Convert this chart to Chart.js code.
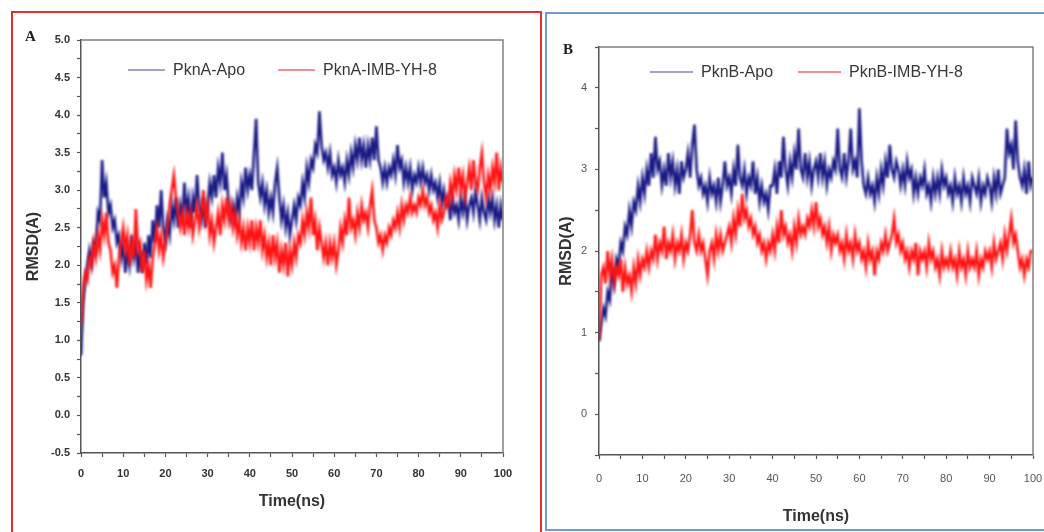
<!DOCTYPE html>
<html>
<head>
<meta charset="utf-8">
<script src="https://cdn.jsdelivr.net/npm/chart.js@4.4.1/dist/chart.umd.min.js"></script>
<style>
  body { margin: 0; background: #fff; width: 1044px; height: 532px; overflow: hidden; position: relative; font-family: "Liberation Sans", Arial, sans-serif; }
  .frame { position: absolute; box-sizing: border-box; }
  #frameA { left: 11px; top: 11px; width: 531px; height: 530px; border: 2px solid #e2322f; }
  #frameB { left: 545px; top: 12px; width: 510px; height: 519px; border: 2px solid #6f9ccd; }
  .wrap { position: absolute; }
  #wrapA { left: 12px; top: 12px; }
  #wrapB { left: 545px; top: 13px; }
  .tag { position: absolute; font-family: "Liberation Serif", serif; font-weight: bold; font-size: 15px; color: #222; }
  .legend { position: absolute; display: flex; align-items: center; font-size: 16px; color: #383838; white-space: nowrap; }
  .legend .sw { display: inline-block; height: 1.5px; margin-right: 8px; }
</style>
</head>
<body>
<div class="frame" id="frameA"></div>
<div class="frame" id="frameB"></div>
<div class="wrap" id="wrapA"><canvas id="chartA" width="528" height="520"></canvas></div>
<div class="wrap" id="wrapB"><canvas id="chartB" width="499" height="519"></canvas></div>
<div class="tag" style="left:25px;top:28px;">A</div>
<div class="tag" style="left:563px;top:41px;">B</div>
<div class="legend" id="legendA" style="left:128px;top:61px;"></div>
<div class="legend" id="legendB" style="left:650px;top:63px;"></div>
<script>
// sampling interval of both trajectories (ns)
const timeStep = 0.5;

const labelsA = ['PknA-Apo', 'PknA-IMB-YH-8'];
const labelsB = ['PknB-Apo', 'PknB-IMB-YH-8'];

// RMSD values, one every 0.5 ns from 0 to 100 ns
const pknaApo = [
  0.8,1.5,1.8,2.0,2.2,2.0,2.3,2.2,2.7,2.6,3.4,2.9,3.1,2.7,2.8,2.5,2.6,2.3,2.4,2.1,
  2.3,1.9,2.2,2.0,2.4,2.1,2.3,1.9,2.2,1.9,2.3,2.0,2.4,2.1,2.6,2.3,2.8,2.5,3.0,2.5,
  2.3,2.6,2.4,2.8,2.6,2.9,2.5,2.8,2.6,3.1,2.7,2.9,2.5,2.9,2.7,3.2,2.8,2.6,2.9,2.5,
  2.8,3.1,2.9,3.2,2.9,3.3,3.1,3.5,3.0,3.2,2.8,2.6,2.8,2.6,2.9,2.7,3.1,2.9,3.3,3.0,
  3.2,3.0,3.5,3.95,3.1,2.9,3.1,2.8,3.0,2.7,2.9,2.7,3.1,3.3,2.9,2.6,2.8,2.5,2.7,2.4,
  2.6,2.8,2.6,2.9,2.8,3.1,2.9,3.3,3.1,3.4,3.3,3.6,3.5,4.05,3.6,3.4,3.5,3.3,3.5,3.2,
  3.3,3.1,3.4,3.2,3.3,3.1,3.4,3.2,3.5,3.3,3.6,3.4,3.7,3.4,3.6,3.3,3.6,3.4,3.7,3.4,
  3.85,3.4,3.3,3.1,3.3,3.1,3.3,3.2,3.4,3.2,3.6,3.3,3.4,3.1,3.3,3.1,3.3,3.0,3.2,3.1,
  3.3,3.1,3.3,3.1,3.2,3.0,3.2,3.0,3.1,2.9,3.1,2.8,3.0,2.8,2.9,2.6,2.9,2.7,2.8,2.6,
  2.9,2.7,2.9,2.6,2.8,2.9,2.7,3.0,2.8,2.6,2.9,2.7,2.6,2.9,2.7,2.9,2.6,2.8,2.5,2.8,2.6
];
const pknaLig = [
  1.2,1.7,1.9,1.8,2.1,2.0,2.3,2.1,2.4,2.2,2.6,2.4,2.7,2.3,2.2,1.9,2.0,1.7,2.1,2.3,
  2.5,2.2,2.4,2.0,2.3,2.1,2.75,2.2,2.3,1.9,2.2,1.8,2.0,1.7,2.1,2.3,2.5,2.2,2.4,2.1,
  2.3,2.5,2.8,3.0,3.2,2.9,2.7,2.5,2.7,2.4,2.7,2.5,2.7,2.4,2.6,2.8,2.5,2.7,3.0,2.6,
  2.8,2.4,2.6,2.3,2.5,2.7,2.4,2.8,2.6,2.9,2.6,2.8,2.5,2.7,2.4,2.6,2.3,2.5,2.2,2.5,
  2.3,2.6,2.2,2.5,2.3,2.6,2.2,2.4,2.1,2.3,2.0,2.4,2.1,2.3,1.9,2.2,2.0,2.3,1.85,2.2,
  2.0,2.3,2.1,2.4,2.3,2.6,2.4,2.7,2.5,2.9,2.4,2.6,2.2,2.5,2.3,2.1,2.3,2.0,2.3,2.1,
  2.3,2.0,2.2,2.5,2.3,2.6,2.4,2.9,2.5,2.6,2.4,2.7,2.5,2.8,2.6,2.7,2.5,2.8,3.0,2.6,
  2.5,2.3,2.4,2.2,2.4,2.3,2.5,2.4,2.6,2.5,2.7,2.5,2.8,2.6,2.8,2.7,2.9,2.7,2.8,2.7,
  2.9,2.8,3.0,2.8,2.9,2.7,2.8,2.6,2.7,2.5,2.8,2.6,2.7,2.9,2.8,3.1,2.9,3.2,3.0,3.3,
  3.0,3.2,2.9,3.1,3.3,3.0,3.4,3.1,3.0,3.3,3.5,3.1,2.9,3.2,3.0,3.3,3.1,3.5,3.0,3.3,3.1
];
const pknbApo = [
  0.9,1.1,1.3,1.2,1.5,1.4,1.8,1.6,1.9,1.8,2.1,2.0,2.3,2.2,2.5,2.3,2.6,2.5,2.8,2.6,
  2.9,2.7,3.0,2.8,3.2,2.9,3.4,3.0,3.1,2.8,3.0,2.8,3.2,2.9,3.1,2.8,3.0,2.7,3.1,2.9,
  3.0,3.2,2.9,3.3,3.55,3.0,2.8,2.9,2.7,2.8,2.6,2.9,2.7,2.8,2.6,2.9,2.6,2.8,3.1,2.8,
  2.9,2.7,3.0,2.8,3.3,2.9,2.8,3.0,2.7,2.9,2.8,3.1,2.7,2.9,2.6,2.8,2.6,2.7,2.5,2.8,
  2.8,3.0,2.7,3.1,2.9,3.4,3.0,2.8,3.1,2.9,3.2,3.0,3.5,3.0,2.9,3.2,2.9,3.1,2.8,3.0,
  3.1,2.9,3.2,2.9,3.1,2.8,3.0,2.9,3.1,3.0,3.5,3.0,2.9,3.2,2.9,3.1,3.5,3.0,3.1,2.9,
  3.75,3.1,2.8,2.7,2.9,2.7,2.8,2.6,2.9,2.7,3.0,2.8,3.1,2.9,3.3,3.0,2.9,3.1,3.0,2.8,
  3.0,2.8,3.1,2.9,3.0,2.7,2.9,2.7,2.9,2.8,3.0,2.7,2.8,2.6,2.9,2.7,2.9,2.7,3.0,2.8,
  2.9,2.7,2.8,2.6,2.9,2.7,2.8,2.6,2.9,2.7,2.8,2.6,2.9,2.8,2.7,2.9,2.6,2.8,2.7,2.9,
  2.8,2.6,2.9,2.7,3.0,2.7,2.8,2.9,3.5,3.2,3.3,3.0,3.6,3.1,2.9,2.8,3.0,2.7,3.1,2.8,2.9
];
const pknbLig = [
  0.9,1.7,1.8,1.6,2.0,1.7,1.9,1.6,1.8,1.7,1.9,1.5,1.8,1.6,1.7,1.5,1.8,1.6,1.9,1.7,
  1.9,1.8,2.0,1.8,2.0,1.9,2.2,1.9,2.1,2.0,2.3,1.9,2.1,2.0,2.2,1.9,2.1,2.0,2.2,1.9,
  2.1,2.0,2.2,2.5,2.1,2.0,2.2,2.0,2.1,1.9,1.7,2.0,2.1,1.9,2.2,2.0,2.2,2.0,2.1,2.2,
  2.3,2.1,2.4,2.2,2.5,2.3,2.7,2.4,2.5,2.3,2.4,2.2,2.3,2.1,2.2,2.0,2.1,1.9,2.1,2.0,
  2.2,2.0,2.3,2.1,2.5,2.2,2.3,2.1,2.2,2.0,2.3,2.1,2.4,2.2,2.3,2.2,2.4,2.3,2.5,2.3,
  2.6,2.3,2.4,2.2,2.3,2.1,2.3,2.0,2.2,2.1,2.2,2.0,2.1,1.9,2.2,2.0,2.1,1.9,2.2,2.0,
  2.1,1.9,2.0,1.8,2.1,1.9,2.0,1.7,2.0,1.9,2.1,2.0,2.2,2.0,2.1,2.2,2.4,2.1,2.2,2.0,
  2.1,1.9,2.0,1.8,2.0,1.9,2.1,1.7,2.0,1.9,2.0,1.8,2.1,1.9,2.0,1.8,1.9,1.7,2.0,1.8,
  1.9,1.8,2.0,1.8,1.9,1.7,2.0,1.8,1.9,1.7,2.0,1.8,1.9,1.8,2.0,1.7,1.9,1.8,2.0,1.9,
  2.0,1.8,2.1,1.9,2.0,2.1,1.9,2.2,2.0,2.2,2.4,2.1,2.2,2.0,1.8,1.9,1.7,1.9,1.8,2.0,2.0
];

const apoColor = '#1b1b86';
const ligColor = '#ff1414';
const legendColors = ['#a2a2cc', '#f29090'];

function toPoints(arr) {
  return arr.map((v, i) => ({ x: i * timeStep, y: v }));
}

// soft traces + grey box on top/right like the original plot frame
const boxPlugin = {
  id: 'box',
  beforeDatasetsDraw(chart) {
    chart.ctx.save();
    chart.ctx.filter = 'blur(1px)';
  },
  afterDatasetsDraw(chart) {
    chart.ctx.restore();
  },
  afterDraw(chart) {
    const { ctx, chartArea: a } = chart;
    ctx.save();
    ctx.strokeStyle = '#808080';
    ctx.lineWidth = 1.5;
    ctx.beginPath();
    ctx.moveTo(a.left, a.top);
    ctx.lineTo(a.right, a.top);
    ctx.lineTo(a.right, a.bottom);
    ctx.stroke();
    ctx.restore();
  }
};

// html legend built from the chart's own legend items
function buildLegend(chart, elId, swatchW, gap) {
  const el = document.getElementById(elId);
  const items = chart.options.plugins.legend.labels.generateLabels(chart)
    .sort((a, b) => a.datasetIndex - b.datasetIndex);
  items.forEach((it, i) => {
    const sw = document.createElement('span');
    sw.className = 'sw';
    sw.style.width = swatchW + 'px';
    sw.style.background = legendColors[it.datasetIndex];
    if (i > 0) sw.style.marginLeft = gap + 'px';
    const tx = document.createElement('span');
    tx.textContent = it.text;
    el.appendChild(sw);
    el.appendChild(tx);
  });
}

function makeChart(id, cfg) {
  const ctx = document.getElementById(id).getContext('2d');
  return new Chart(ctx, {
    type: 'line',
    data: {
      datasets: [
        { label: cfg.labels[0], data: toPoints(cfg.apo), borderColor: apoColor, backgroundColor: apoColor, borderWidth: 2.6, pointRadius: 0, tension: 0, order: 1 },
        { label: cfg.labels[1], data: toPoints(cfg.lig), borderColor: ligColor, backgroundColor: ligColor, borderWidth: 2.6, pointRadius: 0, tension: 0, order: 0 }
      ]
    },
    options: {
      responsive: false,
      animation: false,
      layout: { padding: cfg.pad },
      plugins: {
        tooltip: { enabled: false },
        legend: { display: false }
      },
      scales: {
        x: {
          type: 'linear',
          min: 0, max: 100,
          afterFit: s => { s.height = cfg.xHeight; s.paddingRight = 10; s.paddingLeft = 0; },
          border: { color: '#555', width: 1.5 },
          grid: { drawOnChartArea: false, tickLength: 4, color: '#555', tickWidth: 1.2 },
          ticks: {
            stepSize: 5, autoSkip: false, maxRotation: 0, padding: cfg.xTickPad,
            color: cfg.tickColor, font: { family: 'Liberation Sans', size: 11, weight: cfg.tickWeight },
            callback: v => (v % 10 === 0 ? String(v) : '')
          },
          title: { display: true, text: 'Time(ns)', color: '#333', padding: { top: 0, bottom: cfg.xTitlePad }, font: { family: 'Liberation Sans', size: 16, weight: 'bold' } }
        },
        y: {
          min: -0.5, max: cfg.yMax,
          afterFit: s => { s.width = cfg.yWidth; },
          border: { color: '#555', width: 1.5 },
          grid: { drawOnChartArea: false, tickLength: 4, color: '#555', tickWidth: 1.2 },
          ticks: {
            stepSize: cfg.yStep, autoSkip: false, padding: cfg.yTickPad,
            color: cfg.tickColor, font: { family: 'Liberation Sans', size: 11, weight: cfg.tickWeight },
            callback: cfg.yLabel
          },
          title: { display: true, text: 'RMSD(A)', color: '#333', padding: { top: 12, bottom: 0 }, font: { family: 'Liberation Sans', size: 16, weight: 'bold' } }
        }
      }
    },
    plugins: [boxPlugin]
  });
}

const isStep = (v, s) => Math.abs(v / s - Math.round(v / s)) < 1e-6;

const chartA = makeChart('chartA', {
  labels: labelsA, apo: pknaApo, lig: pknaLig,
  pad: { top: 28, right: 37, left: 0, bottom: 0 },
  xHeight: 79, yWidth: 69, yMax: 5.0, yStep: 0.25,
  xTickPad: 10, yTickPad: 7, xTitlePad: 21,
  tickColor: '#333', tickWeight: 'bold',
  yLabel: v => (isStep(v, 0.5) ? v.toFixed(1) : '')
});

const chartB = makeChart('chartB', {
  labels: labelsB, apo: pknbApo, lig: pknbLig,
  pad: { top: 34, right: 11, left: 0, bottom: 0 },
  xHeight: 77, yWidth: 54, yMax: 4.5, yStep: 0.5,
  xTickPad: 13, yTickPad: 8, xTitlePad: 6,
  tickColor: '#555', tickWeight: 'normal',
  yLabel: v => (isStep(v, 1) ? String(Math.round(v)) : '')
});

buildLegend(chartA, 'legendA', 37, 33);
buildLegend(chartB, 'legendB', 43, 25);
</script>
</body>
</html>
